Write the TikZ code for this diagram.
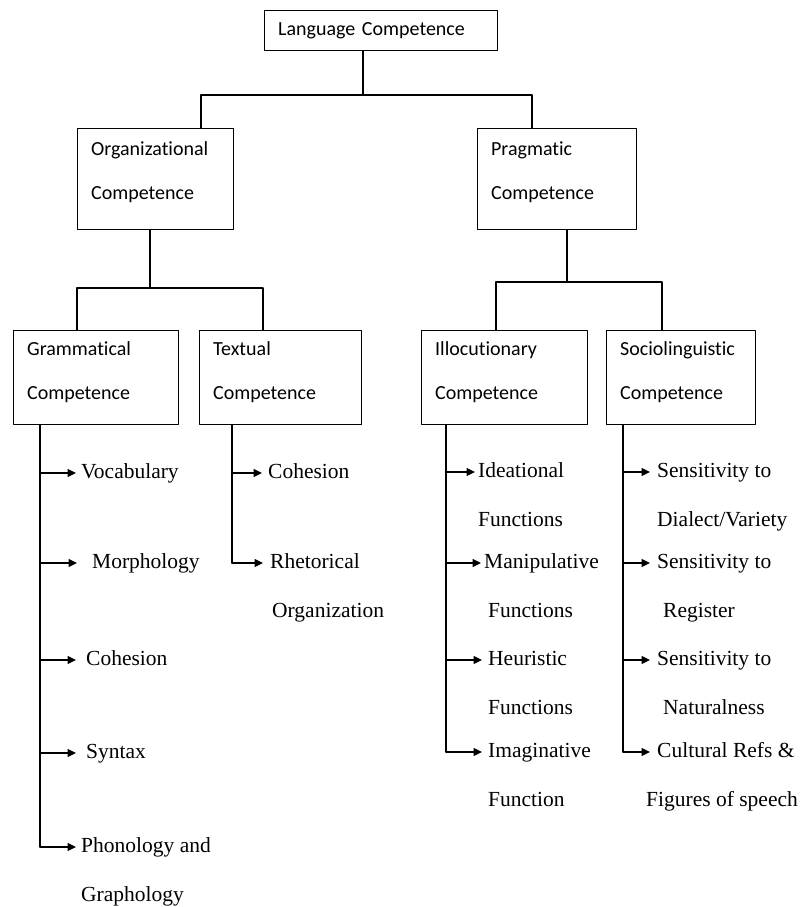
\documentclass[tikz,border=0pt]{standalone}
\usepackage{fontspec}
\newfontfamily\boxfont[Ligatures=NoCommon]{Carlito}
\newfontfamily\leaffont{Liberation Serif}
\usetikzlibrary{arrows.meta}

\begin{document}
\begin{tikzpicture}[line cap=round,line join=round,>={Triangle[length=8.5pt,width=8pt]},x=1pt,y=-1pt,
	box/.style={draw,line width=1.3pt,anchor=north west,align=left,inner xsep=13.5pt,inner ysep=0pt,font=\boxfont\fontsize{20pt}{44pt}\selectfont},
	upper/.style={box,text height=26.7pt,text depth=74.3pt},
	lower/.style={box,text height=24.7pt,text depth=69.3pt},
	leaf/.style={anchor=mid west,align=flush left,text width=170pt,inner ysep=0pt,inner xsep=6pt,font=\leaffont\fontsize{21.5pt}{49pt}\selectfont},
	link/.style={line width=1.2pt}]
		\useasboundingbox (0,0) rectangle (801,907);
		%%%%%%%%%%%%%%%%%%%%% B O X E S %%%%%%%%%%%%%%%%%%%%%
		\node[box,text width=206pt,text height=24.7pt,text depth=15.3pt] (lang) at (264,10) {Language Competence};
		\node[upper,text width=129pt] (org) at (77,128) {Organizational\\Competence};
		\node[upper,text width=132pt] (prag) at (477,128) {Pragmatic\\Competence};
		\node[lower,text width=138pt] (gram) at (13,330) {Grammatical\\Competence};
		\node[lower,text width=135pt] (textual) at (199,330) {Textual\\Competence};
		\node[lower,text width=139pt] (illo) at (421,330) {Illocutionary\\Competence};
		\node[lower,text width=122pt] (socio) at (606,330) {Sociolinguistic\\Competence};
		
		%%%% TREE
		\coordinate (j0) at (363,95);
		\coordinate (jorg) at (201,95);
		\coordinate (jprag) at (532,95);
		\draw[link] (lang.south -| j0) -- (j0);
		\draw[link] (org.north -| jorg) |- (jprag) -- (prag.north -| jprag);
		\coordinate (k0) at (150,288);
		\coordinate (kgram) at (77,288);
		\coordinate (ktext) at (263,288);
		\draw[link] (org.south -| k0) -- (k0);
		\draw[link] (gram.north -| kgram) |- (ktext) -- (textual.north -| ktext);
		\coordinate (m0) at (567,282);
		\coordinate (millo) at (496,282);
		\coordinate (msocio) at (662,282);
		\draw[link] (prag.south -| m0) -- (m0);
		\draw[link] (illo.north -| millo) |- (msocio) -- (socio.north -| msocio);
		
		%%%% GRAMMATICAL
		\node[leaf,inner xsep=5pt] (voc) at (76,476) {Vocabulary};
		\node[leaf,inner xsep=15pt] (morph) at (77,566) {Morphology};
		\node[leaf,inner xsep=10pt] (gcoh) at (76,663) {Cohesion};
		\node[leaf,inner xsep=10pt] (syn) at (76,756) {Syntax};
		\node[leaf,inner xsep=5pt] (phon) at (76,850) {Phonology and\\Graphology};
		\coordinate (sg) at (40,0);
		\draw[link] (gram.south -| sg) -- ([yshift=3pt]sg |- phon.mid west);
		\foreach \n in {voc,morph,gcoh,syn,phon}
			\draw[link,->] ([yshift=3pt]sg |- \n.mid west) -- ([yshift=3pt]\n.mid west);
		
		%%%% TEXTUAL
		\node[leaf] (tcoh) at (262,476) {Cohesion};
		\node[leaf,inner xsep=7pt] (rhet) at (263,566) {Rhetorical\\\hspace*{2pt}Organization};
		\coordinate (st) at (232,0);
		\draw[link] (textual.south -| st) -- ([yshift=3pt]st |- rhet.mid west);
		\foreach \n in {tcoh,rhet}
			\draw[link,->] ([yshift=3pt]st |- \n.mid west) -- ([yshift=3pt]\n.mid west);
		
		%%%% ILLOCUTIONARY
		\node[leaf,inner xsep=3pt] (ide) at (475,475) {Ideational\\Functions};
		\node[leaf,inner xsep=3pt] (man) at (481,566) {Manipulative\\\hspace*{4pt}Functions};
		\node[leaf] (heur) at (482,663) {Heuristic\\Functions};
		\node[leaf] (imag) at (482,755) {Imaginative\\Function};
		\coordinate (si) at (446,0);
		\draw[link] (illo.south -| si) -- ([yshift=3pt]si |- imag.mid west);
		\foreach \n in {ide,man,heur,imag}
			\draw[link,->] ([yshift=3pt]si |- \n.mid west) -- ([yshift=3pt]\n.mid west);
		
		%%%% SOCIOLINGUISTIC
		\node[leaf,inner xsep=7pt] (dial) at (650,475) {Sensitivity to\\Dialect/Variety};
		\node[leaf,inner xsep=7pt] (reg) at (650,566) {Sensitivity to\\\hspace*{6pt}Register};
		\node[leaf,inner xsep=7pt] (nat) at (650,663) {Sensitivity to\\\hspace*{6pt}Naturalness};
		\node[leaf,inner xsep=7pt] (cult) at (650,755) {Cultural Refs \&\\\hspace*{-11pt}Figures of speech};
		\coordinate (ss) at (623,0);
		\draw[link] (socio.south -| ss) -- ([yshift=3pt]ss |- cult.mid west);
		\foreach \n in {dial,reg,nat,cult}
			\draw[link,->] ([yshift=3pt]ss |- \n.mid west) -- ([yshift=3pt]\n.mid west);
	\end{tikzpicture}
\end{document}
